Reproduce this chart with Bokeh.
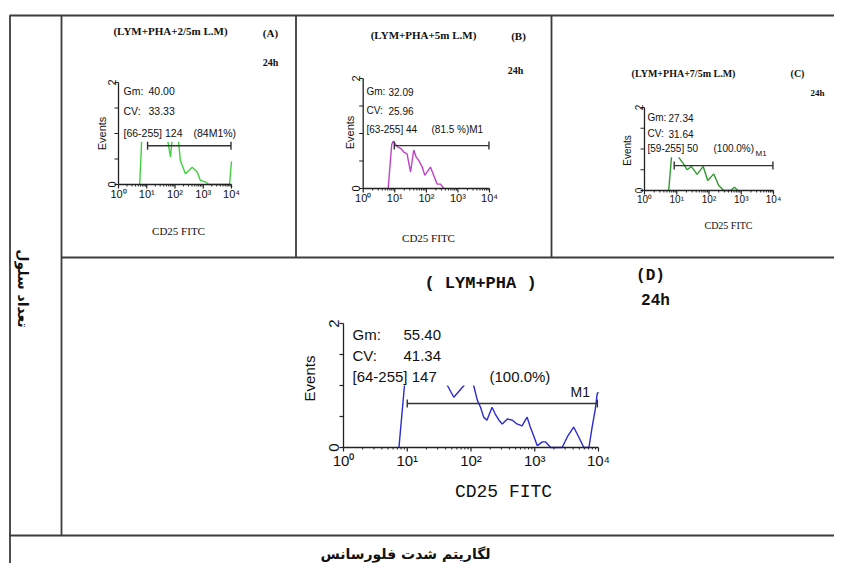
import math
from bokeh.plotting import figure
from bokeh.models import Range1d, Label
from bokeh.core.properties import value
from bokeh.embed import file_html
from bokeh.resources import INLINE

# ---------------- data ----------------
X_MAJOR = [1, 10, 100, 1000, 10000]
X_LABELS = ["10\u2070", "10\u00b9", "10\u00b2", "10\u00b3", "10\u2074"]
X_MINOR = [k * d for d in [1, 10, 100, 1000] for k in range(2, 10)]
Y_TICKS = [0, 0.5, 1.0, 1.5, 2.0]
Y_LABELS = ["0", "2"]

A_x = [5.62, 6.92, 12.0, 30.0, 50.0, 56.2, 69.2, 79.4, 100, 126, 155, 234, 407, 617, 794, 1202, 1585, 8511, 10000]
A_y = [0, 1.1, 1.3, 1.2, 1.0, 0.84, 0.54, 0.9, 1.2, 1.0, 0.47, 0.21, 0.34, 0.24, 0.08, 0.05, 0, 0, 0.45]

B_x = [6.17, 8.0, 8.9, 12.0, 16.2, 19.5, 24.5, 31.6, 39.8, 47.9, 57.5, 74.1, 89.1, 135, 170, 219, 282, 355]
B_y = [0, 0.80, 0.86, 0.76, 0.72, 0.66, 0.63, 0.30, 0.70, 0.57, 0.51, 0.39, 0.24, 0.39, 0.24, 0.08, 0.08, 0]

C_x = [5.62, 7.41, 9.5, 11.0, 12.0, 16.6, 20.9, 28.2, 42.7, 66.1, 91.2, 141, 200, 288, 468, 617, 776]
C_y = [0, 1.1, 1.2, 0.85, 0.78, 0.63, 0.50, 0.58, 0.39, 0.58, 0.24, 0.40, 0.12, 0, 0, 0.08, 0]

D_x = [7.41, 9.8, 20, 35, 42.7, 53.7, 77.6, 90, 110, 126, 141, 158, 178, 214, 240, 275, 309, 372, 447,
       525, 631, 759, 851, 977, 1096, 1318, 1479, 1778, 2692, 3236, 4074, 4898, 5888, 7079, 7943, 8913, 9550, 10000]
D_y = [0, 1.4, 1.5, 1.2, 1.0, 0.81, 1.0, 1.2, 1.0, 0.76, 0.65, 0.49, 0.44, 0.65, 0.54, 0.44, 0.38, 0.46, 0.44,
       0.38, 0.35, 0.49, 0.33, 0.17, 0.03, 0.09, 0.09, 0, 0, 0.17, 0.33, 0.17, 0, 0, 0.33, 0.62, 0.87, 0.89]

# marker M1 ranges (intensity start, end, level)
A_mark = [10.7, 9600, 0.76]
B_mark = [9.66, 9600, 0.78]
C_mark = [8.35, 9600, 0.60]
D_mark = [10.0, 9600, 0.71]

STAT_NAMES = ["Gm:", "CV:"]
A_stats = ["40.00", "33.33", "[66-255] 124", "(84M1%)"]
B_stats = ["32.09", "25.96", "[63-255] 44", "(81.5 %)M1"]
C_stats = ["27.34", "31.64", "[59-255] 50", "(100.0%)"]
D_stats = ["55.40", "41.34", "[64-255] 147", "(100.0%)"]

# ---------------- figure ----------------
W, H = 834, 563
p = figure(width=W, height=H, x_range=Range1d(0, W), y_range=Range1d(H, 0),
           output_backend="svg", toolbar_location=None, min_border=0,
           x_axis_location=None, y_axis_location=None)
p.grid.visible = False
p.outline_line_color = None
p.background_fill_color = "white"

LC = "#3c3c3c"
# table lines
p.segment(x0=[9, 9.5, 61, 61, 295.5, 551, 9], y0=[15, 15, 15, 257, 15, 15, 535],
          x1=[W, 9.5, 61, W, 295.5, 551, W], y1=[15, H, 535, 257, 257, 257, 535],
          line_color=LC, line_width=1.8)


def label(x, y, s, size, font="Liberation Sans", align="left", baseline="middle", angle=0.0, style="normal"):
    p.add_layout(Label(x=x, y=y, text=s, text_font=font, text_font_size=f"{size}px",
                       text_align=align, text_baseline=baseline, angle=angle,
                       text_font_style=style, text_color="#111111"))


def stats(x, xv, xp, ys, vals, size):
    label(x, ys[0], STAT_NAMES[0], size)
    label(xv, ys[0], vals[0], size)
    label(x, ys[1], STAT_NAMES[1], size)
    label(xv, ys[1], vals[1], size)
    label(x, ys[2], vals[2], size)
    label(xp, ys[2], vals[3], size)


def lg(vals):
    # log10 channel (the flow-cytometry log amplifier scale)
    return [math.log10(v) for v in vals]


def hist(xt, yt, xs, ys, color, hide, mark, fs, gap, ylab_off):
    ppd = (xt[1] - xt[0]) / 4.0
    ppu = (yt[0] - yt[1]) / 2.0
    sub = p.subplot(x_source=Range1d(0, 4), y_source=Range1d(0, 2),
                    x_target=Range1d(xt[0], xt[1]), y_target=Range1d(yt[0], yt[1]))
    sub.line(x=lg(xs), y=ys, line_color=color, line_width=1.4)
    sub.quad(left=[0.0], right=[4.0], bottom=[hide], top=[2.0], fill_color="white", line_color=None)
    # M1 bar
    mx = lg(mark[:2])
    sub.segment(x0=[mx[0]], y0=[mark[2]], x1=[mx[1]], y1=[mark[2]], line_color="#333333", line_width=1.4)
    sub.scatter(x=mx, y=[mark[2], mark[2]], marker="dash", angle=math.pi / 2, size=8,
                line_color="#333333", line_width=1.4)
    # axes
    ac = "#222222"
    sub.segment(x0=[0, 0], y0=[0, 0], x1=[0, 4], y1=[2, 0], line_color=ac, line_width=1.3)
    tl = -4.0 / ppd
    sub.segment(x0=[tl] * len(Y_TICKS), y0=Y_TICKS, x1=[0] * len(Y_TICKS), y1=Y_TICKS, line_color=ac, line_width=1.2)
    xm = lg(X_MAJOR)
    xn = lg(X_MINOR)
    sub.segment(x0=xm, y0=[0] * 5, x1=xm, y1=[-4.0 / ppu] * 5, line_color=ac, line_width=1.2)
    sub.segment(x0=xn, y0=[0] * len(xn), x1=xn, y1=[-2.0 / ppu] * len(xn), line_color=ac, line_width=1.0)
    sub.text(x=xm, y=[0] * 5, text=X_LABELS, y_offset=gap, text_align="center", text_baseline="top",
             text_font=value("Liberation Sans"), text_font_size=value(f"{fs}px"), text_color="#111111")
    sub.text(x=[0, 0], y=[0, 2], text=Y_LABELS, x_offset=-ylab_off, angle=math.pi / 2,
             text_align="center", text_baseline="middle",
             text_font=value("Liberation Sans"), text_font_size=value(f"{fs}px"), text_color="#111111")


# ---------- panel A ----------
hist((118, 231), (184, 82), A_x, A_y, "#3fcf3f", 0.84, A_mark, 11, 3, 7)
label(170, 30, "(LYM+PHA+2/5m L.M)", 11, font="Liberation Serif", align="center", style="bold")
label(270, 32, "(A)", 11, font="Liberation Serif", align="center", style="bold")
label(270, 62, "24h", 10, font="Liberation Serif", align="center", style="bold")
label(101, 133, "Events", 11, align="center", angle=math.pi / 2)
stats(123, 148, 193, [90, 110, 132], A_stats, 10.5)
label(178, 230, "CD25 FITC", 11, font="Liberation Serif", align="center")

# ---------- panel B ----------
hist((362.7, 489), (188, 78), B_x, B_y, "#c040c8", 0.92, B_mark, 11, 3, 7)
label(423, 34, "(LYM+PHA+5m L.M)", 11, font="Liberation Serif", align="center", style="bold")
label(518, 35, "(B)", 11, font="Liberation Serif", align="center", style="bold")
label(515, 70, "24h", 10, font="Liberation Serif", align="center", style="bold")
label(349, 132, "Events", 11, align="center", angle=math.pi / 2)
stats(366, 388, 431, [91, 110, 129], B_stats, 10)
label(428, 237, "CD25 FITC", 11, font="Liberation Serif", align="center")

# ---------- panel C ----------
hist((644, 773), (190, 107), C_x, C_y, "#2e9a2e", 0.80, C_mark, 10, 3, 6)
label(683, 73, "(LYM+PHA+7/5m L.M)", 10, font="Liberation Serif", align="center", style="bold")
label(797, 73, "(C)", 10, font="Liberation Serif", align="center", style="bold")
label(817, 92, "24h", 9, font="Liberation Serif", align="center", style="bold")
label(627, 150, "Events", 10, align="center", angle=math.pi / 2)
stats(647, 668, 713, [117, 133, 148], C_stats, 10)
label(755, 153, "M1", 8)
label(728, 225, "CD25 FITC", 10, font="Liberation Serif", align="center")

# ---------- panel D ----------
hist((343, 598), (447, 323), D_x, D_y, "#2a2ad0", 1.0, D_mark, 15, 4, 10)
label(480, 283, "( LYM+PHA )", 17, font="Liberation Mono", align="center", style="bold")
label(650, 275, "(D)", 16, font="Liberation Mono", align="center", style="bold")
label(655, 300, "24h", 16, font="Liberation Mono", align="center", style="bold")
label(309, 378, "Events", 15, align="center", angle=math.pi / 2)
stats(352, 403, 489, [334, 355, 376], D_stats, 15)
label(570, 391, "M1", 14)
label(503, 491, "CD25 FITC", 18, font="Liberation Mono", align="center")

# ---------- Persian axis captions ----------
label(22, 288, "تعداد سلول", 14, font="DejaVu Sans", align="center", angle=-math.pi / 2, style="bold")
label(405, 553, "لگاریتم شدت فلورسانس", 14, font="DejaVu Sans", align="center", style="bold")

open("out.html", "w").write(file_html(p, INLINE))
